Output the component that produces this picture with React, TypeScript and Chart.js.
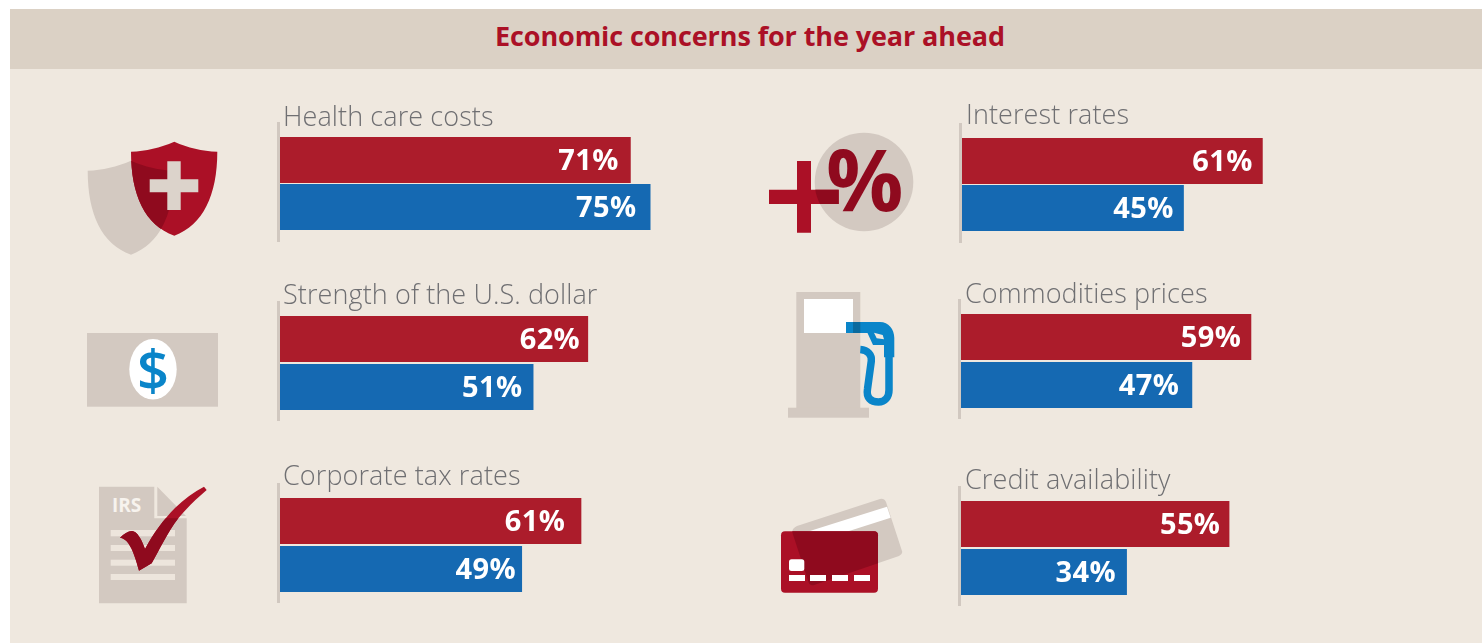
import React, { useEffect, useRef } from "react";
import { Chart, registerables } from "chart.js";

Chart.register(...registerables);

// ---- data ----
const chartTitle = "Economic concerns for the year ahead";
const categories = [
  "Health care costs",
  "Strength of the U.S. dollar",
  "Corporate tax rates",
  "Interest rates",
  "Commodities prices",
  "Credit availability",
];
const seriesRed = [71, 62, 61, 61, 59, 55];
const seriesBlue = [75, 51, 49, 45, 47, 34];

// ---- layout of the six small panels ----
const panelX = [280, 280, 280, 962, 961, 961];
const panelRedTop = [137, 316, 498, 138, 314, 501];
const panelBand = [47, 48, 48, 47, 48, 48];
const panelAxisWidth = [494, 497, 494, 493, 492, 488];
const panelTextX = [283, 283, 283, 966, 965, 965];
const panelTextBase = [126, 304, 485, 124, 303, 489];
const panelInset = [[12, 14], [8, 11], [16, 6], [10, 10], [10, 13], [9, 11]];

const BG = "#efe8df";
const HEADER = "#dbd1c5";
const RED = "#ac1c2b";
const BLUE = "#1569b2";
const AXIS = "#d1c8c0";
const CRIMSON = "#ab1026";
const DARK = "#8f0a1e";
const GREY = "#d3c9c1";
const CYAN = "#0a85c9";

const BAR_H = 46;
const LEAD = 40;

function Panel({ index }: { index: number }) {
  const ref = useRef<HTMLCanvasElement | null>(null);
  const band = panelBand[index];
  const canvasHeight = LEAD + 2 * band + 30;
  const canvasWidth = 4 + 520;
  const left = panelX[index] - 4;
  const top = panelRedTop[index] - LEAD;

  useEffect(() => {
    if (!ref.current) return;
    const padTop = LEAD + BAR_H / 2 - band / 2;
    const padBottom = canvasHeight - padTop - 2 * band;
    const panelPlugin = {
      id: "panelPlugin",
      beforeDatasetsDraw(chart: any) {
        const ctx = chart.ctx;
        const x0 = chart.scales.x.getPixelForValue(0);
        ctx.save();
        ctx.fillStyle = AXIS;
        ctx.fillRect(x0 - 3, LEAD - 15, 3, 120);
        ctx.font = "300 27px 'Open Sans'";
        ctx.fillStyle = "#6f6f72";
        (ctx as any).letterSpacing = "0.1px";
        ctx.textAlign = "left";
        ctx.textBaseline = "alphabetic";
        ctx.fillText(
          categories[index],
          panelTextX[index] - left,
          panelTextBase[index] - top
        );
        ctx.restore();
      },
      afterDatasetsDraw(chart: any) {
        const ctx = chart.ctx;
        ctx.save();
        ctx.font = "700 29px 'Open Sans'";
        (ctx as any).letterSpacing = "0.4px";
        ctx.fillStyle = "#ffffff";
        ctx.textAlign = "right";
        ctx.textBaseline = "middle";
        chart.data.datasets.forEach((ds: any, di: number) => {
          const el = chart.getDatasetMeta(di).data[0];
          ctx.fillText(`${ds.data[0]}%`, el.x - panelInset[index][di], el.y + 2);
        });
        ctx.restore();
      },
    };
    const chart = new Chart(ref.current, {
      type: "bar",
      data: {
        labels: [categories[index]],
        datasets: [
          {
            label: "Red series",
            data: [seriesRed[index]],
            backgroundColor: RED,
            categoryPercentage: 1,
            barPercentage: BAR_H / band,
            borderWidth: 0,
          },
          {
            label: "Blue series",
            data: [seriesBlue[index]],
            backgroundColor: BLUE,
            categoryPercentage: 1,
            barPercentage: BAR_H / band,
            borderWidth: 0,
          },
        ],
      },
      plugins: [panelPlugin],
      options: {
        indexAxis: "y",
        animation: false,
        responsive: false,
        devicePixelRatio: 1,
        layout: {
          padding: {
            left: 4,
            top: padTop,
            bottom: padBottom,
            right: canvasWidth - 4 - panelAxisWidth[index],
          },
        },
        plugins: {
          legend: { display: false },
          title: { display: false },
          tooltip: { enabled: false },
        },
        scales: {
          x: { display: false, min: 0, max: 100 },
          y: { display: false },
        },
      } as any,
    });
    return () => chart.destroy();
  }, [index, band, canvasHeight, canvasWidth, left, top]);

  return (
    <canvas
      ref={ref}
      width={canvasWidth}
      height={canvasHeight}
      style={{
        position: "absolute",
        left,
        top,
        width: canvasWidth,
        height: canvasHeight,
      }}
    />
  );
}

const shieldPath =
  "M174.3 141.7 C160 148 146 151 131 151.7 C131 195 145 225 174.3 235.7 C203 225 217.3 195 217.3 151.7 C202 151 188 148 174.3 141.7 Z";
const greyShield =
  "M131 160.7 C116.7 167 102.7 170 87.7 170.7 C87.7 214 101.7 244 131 254.7 C159.7 244 174 214 174 170.7 C158.7 170 144.7 167 131 160.7 Z";
const checkPath =
  "M120 537.7 C124 534 128 531 132 531 C137 531 142 540 145 549 C153 534 164 519 175 508 C184 499 194 492 204 486.7 L206.7 490 C196 499 187 508 178.3 518.3 C167 533 160 549 151.7 563.3 L139 570.7 C136 560 133 550 128.3 543.3 C126 540 123 538 120 537.7 Z";
const cardGrey = "M797 526 L880 499 Q884 498 886 502 L902 551 Q903 554 899 556 L814 585 Q810 586 808.5 582 L792.5 533 Q791.5 528.5 797 526 Z";

function Icons() {
  return (
    <svg
      width={1482}
      height={643}
      style={{ position: "absolute", left: 0, top: 0 }}
    >
      <defs>
        <clipPath id="clipShield"><path d={shieldPath} /></clipPath>
        <clipPath id="clipDoc">
          <path d="M99 486.7 H154.3 V518.3 H186.7 V603.3 H99 Z" />
        </clipPath>
        <clipPath id="clipCircle"><circle cx={864} cy={182} r={49.3} /></clipPath>
        <clipPath id="clipCard"><rect x={781} y={531.3} width={97} height={61.4} rx={4} /></clipPath>
      </defs>

      {/* shield */}
      <path d={greyShield} fill={GREY} />
      <path d={shieldPath} fill={CRIMSON} />
      <path d={greyShield} fill={DARK} clipPath="url(#clipShield)" />
      <path d="M167.3 161.3 H180.7 V179.3 H198.3 V192.3 H180.7 V210 H167.3 V192.3 H149.7 V179.3 H167.3 Z" fill="#dcd3cb" />

      {/* bill */}
      <rect x={87} y={333} width={131} height={73.7} fill={GREY} />
      <ellipse cx={153} cy={369.3} rx={23.7} ry={30.3} fill="#ffffff" />
      <text x={153} y={390} textAnchor="middle" fontFamily="'Open Sans'" fontWeight={600} fontSize={56} fill={CYAN}>$</text>

      {/* IRS document */}
      <path d="M99 486.7 H154.3 V518.3 H186.7 V603.3 H99 Z" fill={GREY} />
      <path d="M157.3 486.7 L186 516 H157.3 Z" fill={GREY} />
      <text x={112} y={511.5} fontFamily="'Open Sans'" fontWeight={700} fontSize={19} fill="#f7f3ee">IRS</text>
      <rect x={110.7} y={530} width={64.3} height={6.3} fill="#ede5dc" />
      <rect x={110.7} y={545} width={64.3} height={6} fill="#ede5dc" />
      <rect x={110.7} y={559.7} width={64.3} height={6} fill="#ede5dc" />
      <rect x={110.7} y={574} width={64.3} height={6} fill="#ede5dc" />
      <path d={checkPath} fill={CRIMSON} />
      <path d={checkPath} fill={DARK} clipPath="url(#clipDoc)" />

      {/* plus percent */}
      <circle cx={864} cy={182} r={49.3} fill={GREY} />
      <path d="M797 161 H811 V189.7 H838.7 V204 H811 V232.7 H797 V204 H769 V189.7 H797 Z" fill={CRIMSON} />
      <path d="M797 161 H811 V189.7 H838.7 V204 H811 V232.7 H797 V204 H769 V189.7 H797 Z" fill={DARK} clipPath="url(#clipCircle)" />
      <text x={826} y={211} fontFamily="'Open Sans'" fontWeight={700} fontSize={86} fill={DARK}>%</text>

      {/* pump */}
      <rect x={796.3} y={292} width={64} height={116} fill={GREY} />
      <rect x={788} y={407.7} width={81} height={10} fill={GREY} />
      <rect x={804} y={299} width={49} height={34} fill="#ffffff" />
      <path
        fillRule="evenodd"
        d="M846 322 H880 C888.5 322 894.3 329 894.3 338 V357.3 H884 V345 H873 L867.5 333 H846 Z M874 332.7 L882.7 335 L884 339.3 L876.7 338.3 Z"
        fill={CYAN}
      />
      <rect x={853} y={322} width={7.3} height={11} fill="#0a6a9e" />
      <path
        d="M860.3 349.5 C868 350 872 355 871.3 361 L867.5 389 C866 398 871 402 878.5 402 C885 402 889 397 889 390 V357"
        fill="none"
        stroke={CYAN}
        strokeWidth={7.5}
      />

      {/* cards */}
      <path d={cardGrey} fill={GREY} />
      <path d="M794 536 L887 506.7 L890.7 517.7 L798 547.3 Z" fill="#ffffff" />
      <rect x={781} y={531.3} width={97} height={61.4} rx={4} fill={CRIMSON} />
      <path d={cardGrey} fill={DARK} clipPath="url(#clipCard)" />
      <rect x={789} y={559.3} width={15.3} height={11.7} rx={2.5} fill="#ffffff" />
      <rect x={789} y={575} width={16} height={6} fill="#ffffff" />
      <rect x={810} y={575} width={16} height={6} fill="#ffffff" />
      <rect x={832} y={575} width={16} height={6} fill="#ffffff" />
      <rect x={854} y={575} width={16} height={6} fill="#ffffff" />
    </svg>
  );
}

export default function App() {
  return (
    <div
      style={{
        position: "absolute",
        left: 0,
        top: 0,
        width: 1482,
        height: 643,
        overflow: "hidden",
        background: "#ffffff",
      }}
    >
      <div style={{ position: "absolute", left: 10, top: 9, width: 1472, height: 60, background: HEADER }} />
      <div style={{ position: "absolute", left: 10, top: 69, width: 1472, height: 574, background: BG }} />
      <div
        style={{
          position: "absolute",
          left: 10,
          top: 9,
          width: 1480,
          height: 60,
          lineHeight: "54px",
          textAlign: "center",
          fontFamily: "'Open Sans'",
          fontWeight: 700,
          fontSize: 27,
          letterSpacing: "-0.1px",
          color: CRIMSON,
        }}
      >
        {chartTitle}
      </div>
      <Icons />
      {categories.map((_, i) => (
        <Panel key={i} index={i} />
      ))}
    </div>
  );
}
